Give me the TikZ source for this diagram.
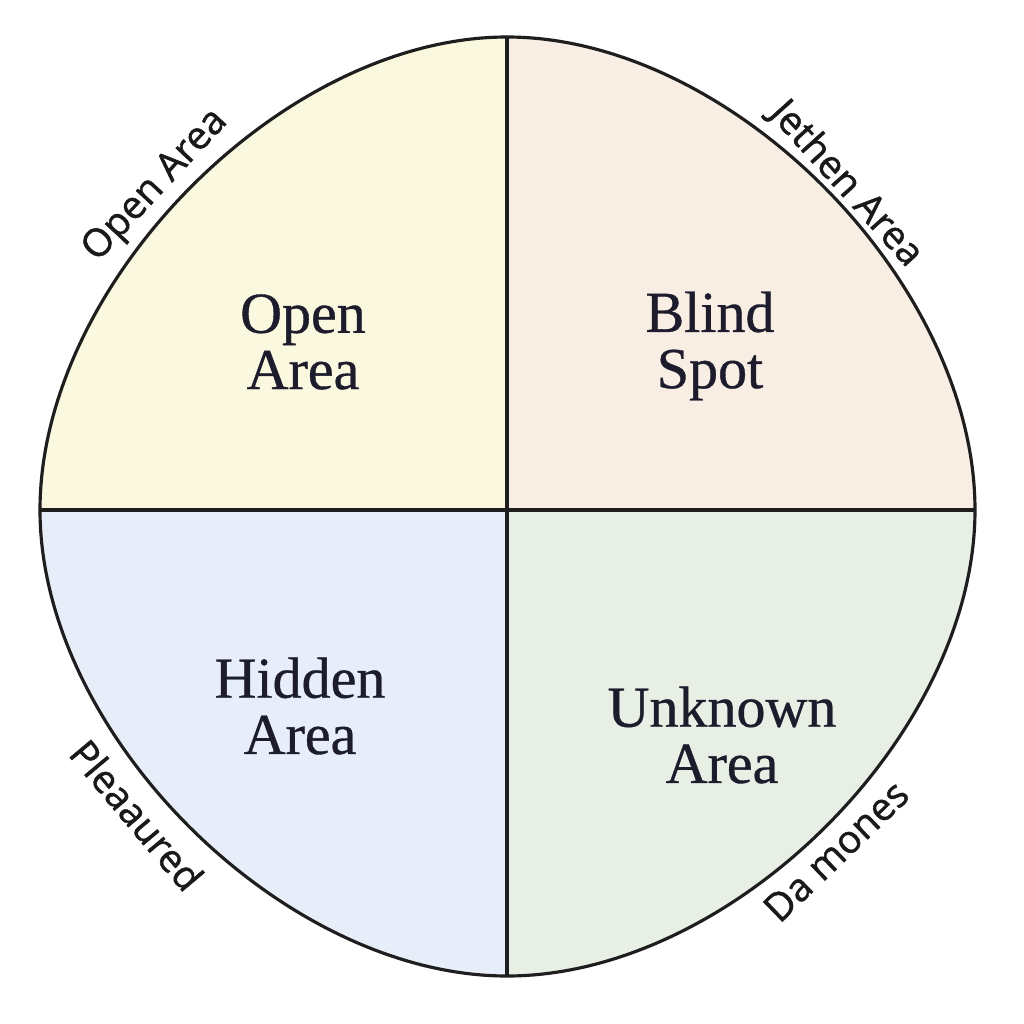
\documentclass[tikz,border=0pt]{standalone}
\usepackage{fontspec}
\setmainfont{Liberation Serif}[FakeBold=0.6]
\newfontfamily\sidefont{Open Sans}[FakeBold=1.2]
\definecolor{openfill}{HTML}{FBF8E0}
\definecolor{blindfill}{HTML}{F9EEE4}
\definecolor{hiddenfill}{HTML}{E7EEF9}
\definecolor{unknownfill}{HTML}{E8F0E6}
\definecolor{edge}{HTML}{1E1E1E}
\definecolor{ink}{HTML}{1C1C2C}
\tikzset{
  quadlabel/.style={align=center, text=ink, font=\fontsize{16.5}{16}\selectfont},
  sidelabel/.style={text=black!90, font=\sidefont\fontsize{11}{13}\selectfont},
}
\begin{document}
\begin{tikzpicture}[x=0.01cm, y=-0.01cm]
\useasboundingbox[fill=white] (0,0) rectangle (1024,1024);
\coordinate (O) at (507,510);
\coordinate (T) at (507,37);
\coordinate (B) at (507,976);
\coordinate (L) at (40,510);
\coordinate (R) at (975,510);
% quadrants
\fill[openfill] (O) -- (T) .. controls (283,37) and (40,283) .. (L) -- cycle;
\fill[blindfill] (O) -- (T) .. controls (732,37) and (975,283) .. (R) -- cycle;
\fill[unknownfill] (O) -- (R) .. controls (975,734) and (732,976) .. (B) -- cycle;
\fill[hiddenfill] (O) -- (B) .. controls (283,976) and (40,734) .. (L) -- cycle;
\draw[edge, line width=0.9pt] (T) .. controls (732,37) and (975,283) .. (R)
  .. controls (975,734) and (732,976) .. (B)
  .. controls (283,976) and (40,734) .. (L)
  .. controls (40,283) and (283,37) .. cycle;
\draw[edge, line width=1.1pt] (T) -- (B);
\draw[edge, line width=1.1pt] (L) -- (R);
\node[quadlabel] (open) at (303,342) {Open\\Area};
\node[quadlabel] (blind) at (710,346) {Blind\\Spot};
\node[quadlabel] (hidden) at (300,706) {Hidden\\Area};
\node[quadlabel] (unknown) at (722,735) {Unknown\\Area};
\node[sidelabel, rotate=47] (openside) at (156,186) {Open Area};
\node[sidelabel, rotate=-48] (jethen) at (846,184) {Jethen Area};
\node[sidelabel, rotate=-50] (pleaaured) at (137,815) {Pleaaured};
\node[sidelabel, rotate=44] (damones) at (836,851) {Da mones};
\end{tikzpicture}
\end{document}
